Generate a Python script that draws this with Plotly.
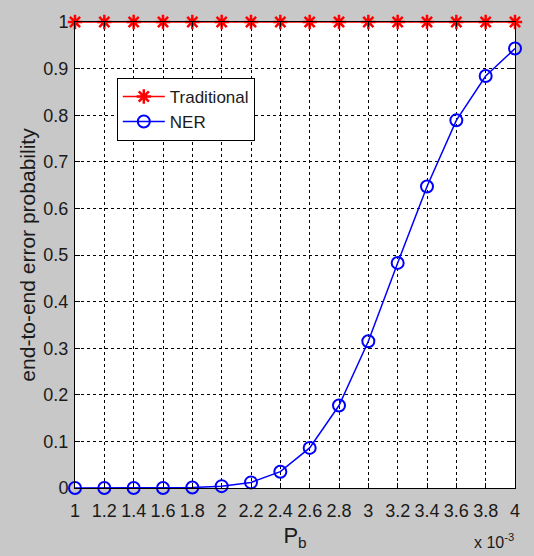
import plotly.graph_objects as go

pb = [1.0, 1.2, 1.4, 1.6, 1.8, 2.0, 2.2, 2.4, 2.6, 2.8, 3.0, 3.2, 3.4, 3.6, 3.8, 4.0]
traditional = [1.0] * 16
ner = [0.0, 0.0, 0.0, 0.0, 0.001, 0.004, 0.012, 0.035, 0.086, 0.177,
       0.315, 0.483, 0.647, 0.789, 0.884, 0.943]
xtick_vals = pb
xtick_text = ["1", "1.2", "1.4", "1.6", "1.8", "2", "2.2", "2.4", "2.6", "2.8",
              "3", "3.2", "3.4", "3.6", "3.8", "4"]
ytick_vals = [0, 0.1, 0.2, 0.3, 0.4, 0.5, 0.6, 0.7, 0.8, 0.9, 1]
ytick_text = ["0", "0.1", "0.2", "0.3", "0.4", "0.5", "0.6", "0.7", "0.8", "0.9", "1"]

FONT = "Liberation Sans, Arial, sans-serif"
TXT = "#1a1a1a"

fig = go.Figure()
fig.add_trace(go.Scatter(
    x=pb, y=traditional, name="Traditional", mode="lines+markers",
    line=dict(color="#ff0000", width=1.5),
    marker=dict(symbol="asterisk-open", size=12, color="#ff0000",
                line=dict(color="#ff0000", width=2.5)),
    cliponaxis=False,
))
fig.add_trace(go.Scatter(
    x=pb, y=ner, name="NER", mode="lines+markers",
    line=dict(color="#0000ff", width=1.5),
    marker=dict(symbol="circle-open", size=12, color="#0000ff",
                line=dict(color="#0000ff", width=2)),
    cliponaxis=False,
))

axis_common = dict(
    showline=True, linecolor="black", linewidth=1, mirror="ticks",
    ticks="inside", ticklen=5, tickcolor="black",
    showgrid=True, gridcolor="black", gridwidth=1, griddash="3px,3px",
    zeroline=False,
    tickfont=dict(family=FONT, size=18, color=TXT),
)

fig.update_xaxes(
    range=[1, 4], tickmode="array", tickvals=xtick_vals, ticktext=xtick_text,
    ticklabelstandoff=6,
    title=dict(text="P<sub>b</sub>", font=dict(family=FONT, size=22, color=TXT),
               standoff=8),
    **axis_common,
)
fig.update_yaxes(
    range=[0, 1], tickmode="array", tickvals=ytick_vals, ticktext=ytick_text,
    ticklabelstandoff=2,
    title=dict(text="end-to-end error probability",
               font=dict(family=FONT, size=21, color=TXT), standoff=2),
    **axis_common,
)

fig.add_annotation(text="x 10<sup>-3</sup>", xref="paper", yref="paper",
                   x=0.952, y=-0.113, xanchor="center", yanchor="middle",
                   showarrow=False, font=dict(family=FONT, size=16, color=TXT))

fig.update_layout(
    width=534, height=556,
    margin=dict(l=75, r=19, t=20, b=63),
    paper_bgcolor="#c8c8c8", plot_bgcolor="white",
    showlegend=True,
    legend=dict(x=0.095, y=0.88, xanchor="left", yanchor="top",
                bgcolor="white", bordercolor="black", borderwidth=1,
                font=dict(family=FONT, size=17, color=TXT),
                tracegroupgap=0, itemwidth=42),
)

fig.write_html("out.html", config={"displayModeBar": False},
               post_script="document.body.style.margin='0px';")
